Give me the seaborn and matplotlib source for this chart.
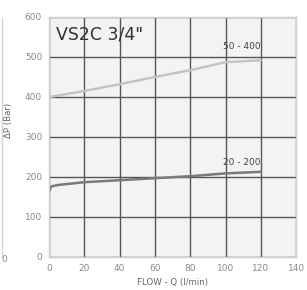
import pandas as pd
import matplotlib.pyplot as plt
import seaborn as sns

flow_hi = [0, 20, 40, 60, 80, 100, 120]
dp_hi = [400, 415, 432, 450, 467, 487, 492]
flow_lo = [0, 1, 5, 20, 40, 60, 80, 100, 120]
dp_lo = [160, 176, 180, 187, 192, 197, 202, 209, 213]

x_ticks = [0, 20, 40, 60, 80, 100, 120, 140]
y_ticks = [0, 100, 200, 300, 400, 500, 600]

hi = pd.DataFrame({'flow': flow_hi, 'dp': dp_hi})
lo = pd.DataFrame({'flow': flow_lo, 'dp': dp_lo})

sns.set_style('white')
plt.rcParams['font.family'] = ['DejaVu Sans']

fig = plt.figure(figsize=(3.07, 2.90), dpi=100)
ax = fig.add_axes([0.1596, 0.1138, 0.805, 0.8276])
ax.set_facecolor('#f3f3f3')

sns.lineplot(data=hi, x='flow', y='dp', color='#c4c4c4', linewidth=1.8, ax=ax)
sns.lineplot(data=lo, x='flow', y='dp', color='#7a7a7a', linewidth=1.8, ax=ax)

ax.set_xlim(0, 140)
ax.set_ylim(0, 600)
ax.set_xticks(x_ticks)
ax.set_yticks(y_ticks)
ax.grid(True, color='#555555', linewidth=1.0)
ax.set_axisbelow(True)
for s in ax.spines.values():
    s.set_color('#cfcfcf')
    s.set_linewidth(1.0)
ax.tick_params(colors='#a0a0a0', labelsize=6.5, length=2, pad=3, labelcolor='#8a8a8a')

ax.set_xlabel('FLOW - Q (l/min)', fontsize=6.2, color='#666666', labelpad=4)
ax.set_ylabel('ΔP (Bar)', fontsize=6.2, color='#666666')
ax.yaxis.set_label_coords(-0.145, 0.57)

ax.text(4, 557, 'VS2C 3/4"', fontsize=12.5, color='#333333', va='center')
ax.text(120, 525, '50 - 400', fontsize=6.5, color='#444444', ha='right', va='center')
ax.text(120, 237, '20 - 200', fontsize=6.5, color='#444444', ha='right', va='center')

# edge of the neighbouring chart
fig.add_artist(plt.Line2D([0.008, 0.008], [0.114, 0.94], color='#d5d5d5', linewidth=1.0))
fig.text(0.006, 0.095, '0', fontsize=6.5, color='#8a8a8a')

fig.savefig('out.png', dpi=100)
